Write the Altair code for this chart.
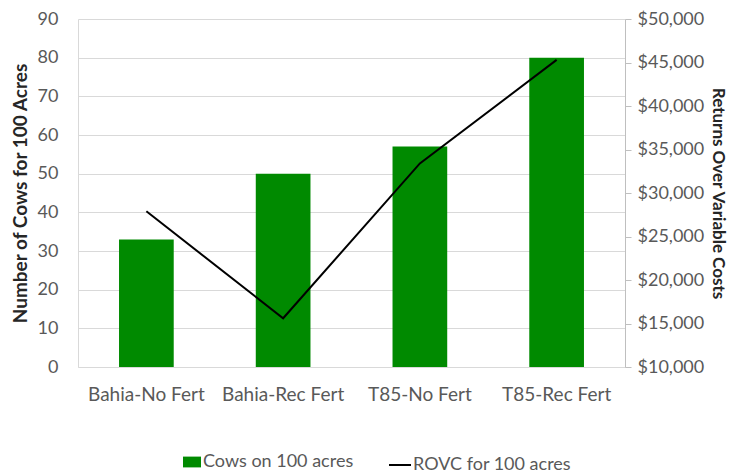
import altair as alt
import pandas as pd

categories = ["Bahia-No Fert", "Bahia-Rec Fert", "T85-No Fert", "T85-Rec Fert"]
cows = [33, 50, 57, 80]
rovc = [27900, 15600, 33400, 45300]

df = pd.DataFrame({"cat": categories, "cows": cows, "rovc": rovc})

FONT = "Lato"
x = alt.X("cat:N", sort=categories, title=None,
          scale=alt.Scale(paddingInner=0.6, paddingOuter=0.3),
          axis=alt.Axis(labelAngle=0, labelFontSize=19, labelColor="#595959",
                        labelPadding=18, ticks=False, domainColor="#d9d9d9",
                        labelFont=FONT))

bars = alt.Chart(df).mark_bar(color="#008A00").encode(
    x=x,
    y=alt.Y("cows:Q", scale=alt.Scale(domain=[0, 90]),
            axis=alt.Axis(values=list(range(0, 91, 10)), title="Number of Cows for 100 Acres",
                          labelFontSize=18, labelColor="#595959", labelFont=FONT,
                          labelPadding=20, ticks=False, domainColor="#d9d9d9",
                          gridColor="#d9d9d9", titleFont=FONT, titleFontSize=19,
                          titleColor="#262626", titleFontWeight="bold", titlePadding=7)),
    fill=alt.Fill("s:N", scale=alt.Scale(domain=["Cows on 100 acres"], range=["#008A00"]),
                  legend=alt.Legend(title=None, orient="none", legendX=105, legendY=434,
                                    symbolType="M-1,-0.6L1,-0.6L1,0.6L-1,0.6Z", symbolSize=324,
                                    labelFontSize=18, labelLimit=0,
                                    labelFont=FONT, labelColor="#595959", symbolStrokeWidth=0,
                                    labelOffset=2)),
).transform_calculate(s="'Cows on 100 acres'")

line = alt.Chart(df).mark_line(color="black", strokeWidth=2).encode(
    x=x,
    y=alt.Y("rovc:Q", scale=alt.Scale(domain=[10000, 50000]),
            axis=alt.Axis(orient="right", values=list(range(10000, 50001, 5000)),
                          format="$,.0f", title="Returns Over Variable Costs",
                          labelFontSize=18, labelColor="#595959", labelFont=FONT,
                          tickColor="#bfbfbf", tickSize=6, labelPadding=6,
                          domainColor="#bfbfbf", grid=False, titleFont=FONT,
                          titleFontSize=17, titleColor="#262626", titleFontWeight="bold",
                          titlePadding=5)),
    stroke=alt.Stroke("l:N", scale=alt.Scale(domain=["ROVC for 100 acres"], range=["black"]),
                      legend=alt.Legend(title=None, orient="none", legendX=310, legendY=434,
                                        symbolType="stroke", symbolSize=484, labelFontSize=18,
                                        labelLimit=0,
                                        labelFont=FONT, labelColor="#595959",
                                        symbolStrokeWidth=2, labelOffset=1)),
).transform_calculate(l="'ROVC for 100 acres'")

chart = alt.layer(bars, line).resolve_scale(y="independent", fill="independent", stroke="independent").properties(
    width=547, height=348,
    autosize=alt.AutoSizeParams(type="none"),
    padding={"left": 70, "top": 11, "right": 104, "bottom": 108},
).configure_view(stroke=None)

chart.save("out.html", embed_options={"renderer": "svg", "actions": False})
